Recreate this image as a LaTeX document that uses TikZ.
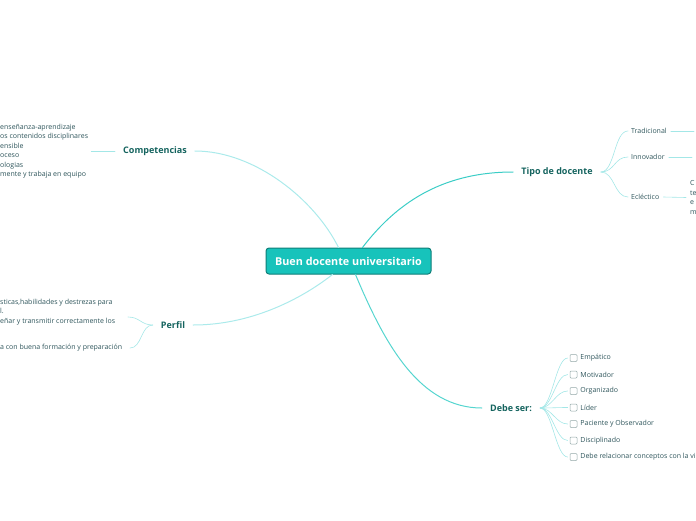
\documentclass[tikz,border=0pt]{standalone}
\usepackage{fontspec}
\setmainfont{Open Sans}
\definecolor{rootfill}{HTML}{17C3BB}
\definecolor{rootline}{HTML}{0F7E78}
\definecolor{topictxt}{HTML}{14635E}
\definecolor{leaftxt}{HTML}{2E555B}
\definecolor{lktipo}{HTML}{3BCDC6}
\definecolor{lkdebe}{HTML}{55D5CF}
\definecolor{lksoft}{HTML}{ABEAEB}
\definecolor{sublk}{HTML}{A3E7E7}
\definecolor{boxgray}{HTML}{93A8A8}
\begin{document}
\begin{tikzpicture}[x=1pt, y=-1pt, line cap=round, line join=round,
    font=\fontsize{7}{9.5}\selectfont,
    topic/.style={font=\bfseries\fontsize{9}{10}\selectfont, text=topictxt, inner xsep=8pt, inner ysep=2pt},
    leaf/.style={text=leaftxt, inner sep=0pt, anchor=west, align=left},
    mainlink/.style={line width=1pt},
    sublink/.style={draw=sublk, line width=0.6pt},
    tick/.style={draw=boxgray, rounded corners=1pt, minimum size=7pt, inner sep=0pt, line width=0.5pt}]
\useasboundingbox (0,0) rectangle (696,520);

% centro
\node[draw=rootline, fill=rootfill, line width=1pt, rounded corners=3pt, minimum width=165pt, minimum height=26pt,
  text=white, font=\bfseries\fontsize{10.8}{12}\selectfont] (root) at (348.5,261) {Buen docente universitario};

% temas
\node[topic] (comp) at (155,151) {Competencias};
\node[topic] (tipo) at (557,172) {Tipo de docente};
\node[topic] (perfil) at (173,325) {Perfil};
\node[topic] (debe) at (511,408) {Debe ser:};

\draw[mainlink, draw=lksoft] ([xshift=-10pt]root.north) .. controls (315,200) and (255,151) .. (comp.east);
\draw[mainlink, draw=lktipo] ([xshift=14pt]root.north) .. controls (395,205) and (440,172) .. (tipo.west);
\draw[mainlink, draw=lksoft] ([xshift=-16pt]root.south) .. controls (300,300) and (250,325) .. (perfil.east);
\draw[mainlink, draw=lkdebe] ([xshift=7pt]root.south) .. controls (385,345) and (420,408) .. (debe.west);

% Competencias
\node[leaf] (complist) at (0,151) {enseñanza-aprendizaje\\os contenidos disciplinares\\ensible\\oceso\\ologias\\mente y trabaja en equipo};
\draw[sublink] (comp.west) -- ([xshift=3pt]complist.east);

% Perfil
\node[leaf] (perfA) at (0,312) {sticas,habilidades y destrezas para\\l.\\eñar y transmitir correctamente los};
\node[leaf] (perfB) at (0,348) {a con buena formación y preparación};
\coordinate (pa) at (128,317);
\coordinate (pb) at (130,348);
\draw[sublink] (perfil.west) .. controls +(-12,0) and +(12,0) .. (pa);
\draw[sublink] (perfil.west) .. controls +(-12,0) and +(12,0) .. (pb);

% Tipo de docente
\node[leaf] (trad) at (631,131) {Tradicional};
\node[leaf] (inno) at (631,157) {Innovador};
\node[leaf] (ecl) at (631,197) {Ecléctico};
\node[leaf] (ecltxt) at (690,197.5) {C\\te\\e\\m};
\coordinate (tradend) at (694,131);
\coordinate (innoend) at (692,157);
\foreach \n in {trad,inno,ecl}
  \draw[sublink] (tipo.east) .. controls +(14,0) and +(-14,0) .. ([xshift=-3pt]\n.west);
\draw[sublink] ([xshift=4pt]trad.east) -- (tradend);
\draw[sublink] ([xshift=4pt]inno.east) -- (innoend);
\draw[sublink] ([xshift=4pt]ecl.east) -- ([xshift=-4pt]ecltxt.west);

% Debe ser
\foreach \lab [count=\i] in {Empático,Motivador,Organizado,Líder,Paciente y Observador,Disciplinado,Debe relacionar conceptos con la vi} {
  \node[tick] (b\i) at (573.5,341.5+16.5*\i) {};
  \node[leaf] (s\i) at ([xshift=3pt]b\i.east) {\lab};
  \draw[sublink] (debe.east) .. controls +(12,0) and +(-12,0) .. ([xshift=-2pt]b\i.west);
}
\end{tikzpicture}
\end{document}
